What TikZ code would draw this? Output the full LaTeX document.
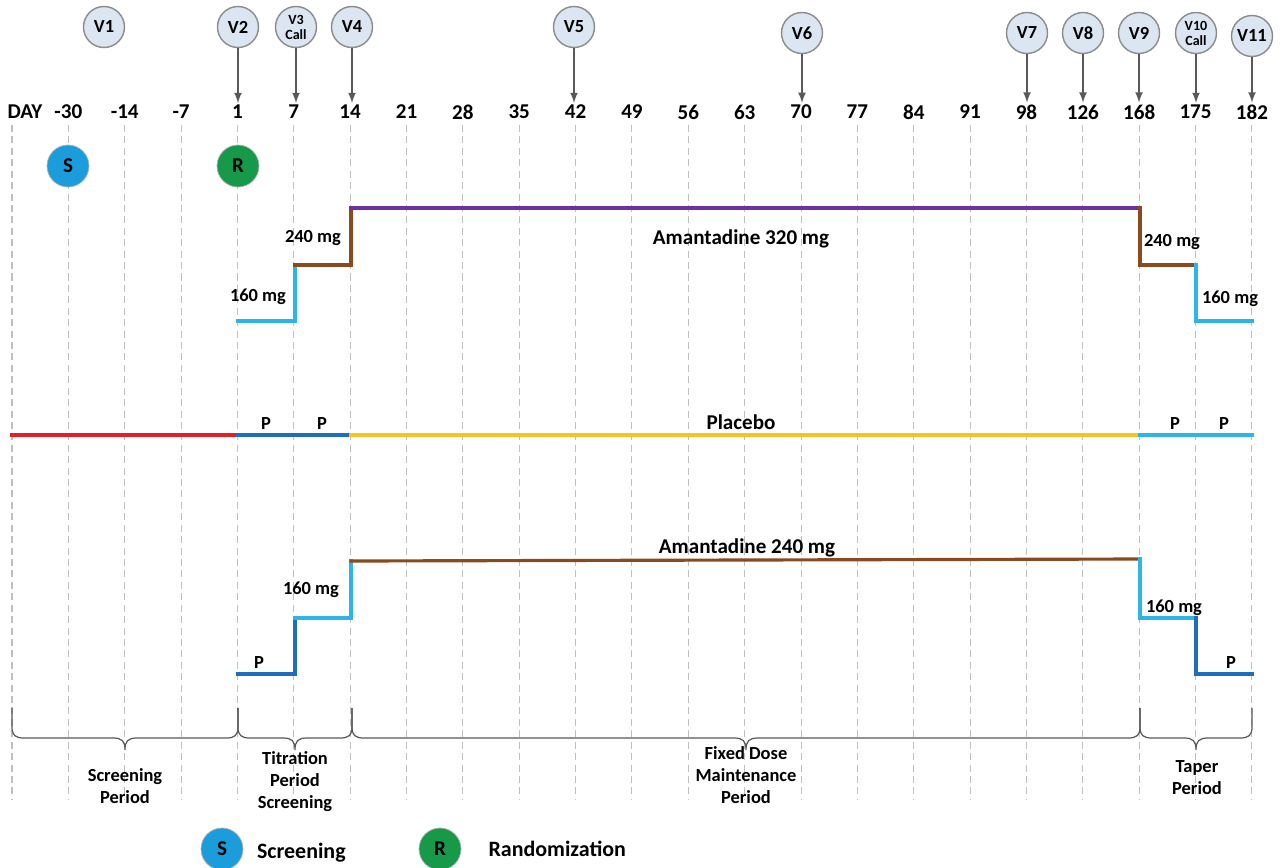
\documentclass[tikz,border=0pt]{standalone}
\usepackage{fontspec}
\setmainfont{Carlito}
\usetikzlibrary{arrows,positioning,decorations.pathreplacing,calc}
\definecolor{visitfill}{HTML}{DCE6F2}
\definecolor{visitedge}{HTML}{8C8C8C}
\definecolor{scrblue}{HTML}{1B9DDB}
\definecolor{rndgreen}{HTML}{17994A}
\definecolor{lightline}{HTML}{2DB4EA}
\definecolor{darkline}{HTML}{1F6DBE}
\definecolor{brownline}{HTML}{8B4A1D}
\definecolor{purpleline}{HTML}{7030A0}
\definecolor{redline}{HTML}{E3202A}
\definecolor{yellowline}{HTML}{F6C325}

\begin{document}
\begin{tikzpicture}[
    x=0.02cm, y=-0.02cm,
    visit/.style={circle, draw=visitedge, fill=visitfill, thick, minimum size=0.82cm, inner sep=0pt, align=center, font=\bfseries\fontsize{10.5}{11}\selectfont},
    call/.style={visit, font=\bfseries\fontsize{8}{8.5}\selectfont},
    daylabel/.style={font=\bfseries\fontsize{12}{13}\selectfont, inner sep=1pt},
    marker/.style={circle, draw=gray!60, minimum size=0.84cm, inner sep=0pt, font=\bfseries\fontsize{12}{13}\selectfont},
    grid/.style={draw=gray!50, line width=0.6pt, dash pattern=on 4pt off 2.5pt},
    dose/.style={line width=1.8pt, line cap=rect},
    dosetext/.style={font=\bfseries\fontsize{10.5}{12}\selectfont},
    armtext/.style={font=\bfseries\fontsize{12}{14}\selectfont},
    period/.style={align=center, font=\bfseries\fontsize{10.5}{12.5}\selectfont},
    bracepath/.style={draw=gray!70!black, line width=0.7pt},
    arrow/.style={-latex, line width=1pt, draw=black!65, fill=black!65},
    legend/.style={font=\bfseries\fontsize{12.5}{14}\selectfont}
]

% Canvas
\fill[white] (0,0) rectangle (1282,867);
\useasboundingbox (0,0) rectangle (1282,867);

% Day grid and labels
\node[daylabel] (day) at (25,112) {DAY};
\draw[grid] (12,125) -- (12,800);
\foreach \lab [count=\i] in {-30,-14,-7,1,7,14,21,28,35,42,49,56,63,70,77,84,91,98,126,168,175,182} {
    \draw[grid] ({12+56.36*\i},125) -- ({12+56.36*\i},800);
    \node[daylabel] (d\i) at ({12+56.36*\i},112) {\lab};
}

% Visits
\node[visit] (v1) at (104,27) {V1};
\node[visit] (v2) at (238,27) {V2};
\node[call] (v3) at (296,27) {V3\\Call};
\node[visit] (v4) at (352,27) {V4};
\node[visit] (v5) at (574,27) {V5};
\node[visit] (v6) at (802,33) {V6};
\node[visit] (v7) at (1027,33) {V7};
\node[visit] (v8) at (1083,33) {V8};
\node[visit] (v9) at (1139,33) {V9};
\node[call] (v10) at (1196,33) {V10\\Call};
\node[visit] (v11) at (1252,36) {V11};

\foreach \v/\d in {v2/d4, v3/d5, v4/d6, v5/d10, v6/d14, v7/d18, v8/d19, v9/d20, v10/d21, v11/d22}
    \draw[arrow] (\v) -- (\v |- \d.north);

% Screening and randomization
\node[marker, fill=scrblue] (scr) at (68,166) {S};
\node[marker, fill=rndgreen] (rnd) at (238,166) {R};

% Amantadine 320 mg arm
\draw[dose, lightline] (238,321) -- (295,321) -- (295,265);
\draw[dose, brownline] (295,265) -- (351,265) -- (351,208);
\draw[dose, purpleline] (351,208) -- (1140,208);
\draw[dose, brownline] (1140,208) -- (1140,265) -- (1196,265);
\draw[dose, lightline] (1196,265) -- (1196,321) -- (1252,321);
\node[dosetext] (hi160) at (258,297) {160 mg};
\node[dosetext] (hi240) at (313,238) {240 mg};
\node[armtext] (hiarm) at (741,239) {Amantadine 320 mg};
\node[dosetext] (hitap240) at (1172,242) {240 mg};
\node[dosetext] (hitap160) at (1230,299) {160 mg};

% Placebo arm
\draw[dose, redline] (12,435) -- (238,435);
\draw[dose, darkline] (238,435) -- (351,435);
\draw[dose, yellowline] (351,435) -- (1140,435);
\draw[dose, lightline] (1140,435) -- (1252,435);
\node[dosetext] (plp1) at (266,424) {P};
\node[dosetext] (plp2) at (322,424) {P};
\node[armtext] (plarm) at (741,422) {Placebo};
\node[dosetext] (plp3) at (1175,424) {P};
\node[dosetext] (plp4) at (1224,424) {P};

% Amantadine 240 mg arm
\draw[dose, darkline] (238,674) -- (295,674) -- (295,618);
\draw[dose, lightline] (295,618) -- (351,618) -- (351,561);
\draw[dose, brownline] (351,561) -- (1140,559);
\draw[dose, lightline] (1140,559) -- (1140,618) -- (1196,618);
\draw[dose, darkline] (1196,618) -- (1196,674) -- (1252,674);
\node[dosetext] (lop1) at (259,663) {P};
\node[dosetext] (lo160) at (311,590) {160 mg};
\node[armtext] (loarm) at (747,548) {Amantadine 240 mg};
\node[dosetext] (lotap160) at (1174,608) {160 mg};
\node[dosetext] (lop2) at (1231,663) {P};

% Period braces
\foreach \a/\b/\m in {12/238/125, 238/352/295, 352/1140/746, 1140/1252/1196}
    \draw[bracepath] (\a,708) -- (\a,727) .. controls (\a,735) and (\a+3,738) .. (\a+12,738)
        -- (\m-12,738) .. controls (\m-3,738) and (\m,741) .. (\m,750)
        .. controls (\m,741) and (\m+3,738) .. (\m+12,738)
        -- (\b-12,738) .. controls (\b-3,738) and (\b,735) .. (\b,727) -- (\b,708);

\node[period] (scrper) at (125,786) {Screening\\Period};
\node[period] (titper) at (295,782) {Titration\\Period\\Screening};
\node[period] (fixper) at (746,775) {Fixed Dose\\Maintenance\\Period};
\node[period] (tapper) at (1197,778) {Taper\\Period};

% Legend
\node[marker, fill=scrblue] (keys) at (222,849) {S};
\node[legend, right=0.15cm of keys, yshift=-2pt] (keystext) {Screening};
\node[marker, fill=rndgreen] (keyr) at (440,849) {R};
\node[legend, right=0.42cm of keyr] (keyrtext) {Randomization};

\end{tikzpicture}
\end{document}
